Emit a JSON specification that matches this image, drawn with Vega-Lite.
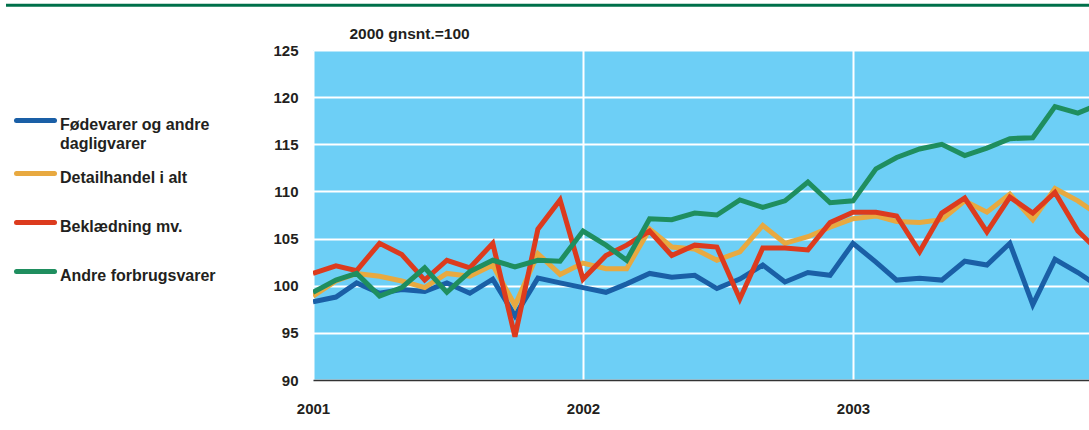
{
  "$schema": "https://vega.github.io/schema/vega-lite/v6.json",
  "autosize": {"type": "none"},
  "padding": {"left": 313, "top": 50, "right": 0, "bottom": 50},
  "width": 776,
  "height": 330,
  "background": "white",
  "config": {
    "font": "Liberation Sans",
    "view": {"fill": "#6dcff6", "stroke": "#a3def7", "strokeWidth": 1},
    "axis": {
      "labelFont": "Liberation Sans",
      "labelFontWeight": "bold",
      "labelColor": "#231f20",
      "titleColor": "#231f20",
      "titleFont": "Liberation Sans",
      "ticks": false,
      "gridColor": "#ffffff",
      "gridWidth": 2,
      "gridOpacity": 1
    }
  },
  "datasets": {
    "indeks": [
      {"dato": "2001-01-01", "Fodevarer": 98.3, "Detailhandel": 98.9, "Beklaedning": 101.3, "Andre": 99.3},
      {"dato": "2001-02-01", "Fodevarer": 98.8, "Detailhandel": 100.5, "Beklaedning": 102.1, "Andre": 100.6},
      {"dato": "2001-03-01", "Fodevarer": 100.3, "Detailhandel": 101.3, "Beklaedning": 101.6, "Andre": 101.3},
      {"dato": "2001-04-01", "Fodevarer": 99.2, "Detailhandel": 101.0, "Beklaedning": 104.5, "Andre": 98.9},
      {"dato": "2001-05-01", "Fodevarer": 99.6, "Detailhandel": 100.5, "Beklaedning": 103.3, "Andre": 99.8},
      {"dato": "2001-06-01", "Fodevarer": 99.4, "Detailhandel": 99.8, "Beklaedning": 100.6, "Andre": 101.9},
      {"dato": "2001-07-01", "Fodevarer": 100.3, "Detailhandel": 101.3, "Beklaedning": 102.7, "Andre": 99.3},
      {"dato": "2001-08-01", "Fodevarer": 99.2, "Detailhandel": 101.0, "Beklaedning": 101.9, "Andre": 101.5},
      {"dato": "2001-09-01", "Fodevarer": 100.7, "Detailhandel": 102.2, "Beklaedning": 104.5, "Andre": 102.7},
      {"dato": "2001-10-01", "Fodevarer": 96.8, "Detailhandel": 97.9, "Beklaedning": 94.6, "Andre": 102.0},
      {"dato": "2001-11-01", "Fodevarer": 100.8, "Detailhandel": 103.4, "Beklaedning": 106.0, "Andre": 102.7},
      {"dato": "2001-12-01", "Fodevarer": 100.3, "Detailhandel": 101.2, "Beklaedning": 109.1, "Andre": 102.6},
      {"dato": "2002-01-01", "Fodevarer": 99.8, "Detailhandel": 102.4, "Beklaedning": 100.7, "Andre": 105.8},
      {"dato": "2002-02-01", "Fodevarer": 99.3, "Detailhandel": 101.8, "Beklaedning": 103.2, "Andre": 104.3},
      {"dato": "2002-03-01", "Fodevarer": 100.2, "Detailhandel": 101.8, "Beklaedning": 104.3, "Andre": 102.7},
      {"dato": "2002-04-01", "Fodevarer": 101.3, "Detailhandel": 106.0, "Beklaedning": 105.8, "Andre": 107.1},
      {"dato": "2002-05-01", "Fodevarer": 100.9, "Detailhandel": 104.1, "Beklaedning": 103.2, "Andre": 107.0},
      {"dato": "2002-06-01", "Fodevarer": 101.1, "Detailhandel": 103.9, "Beklaedning": 104.3, "Andre": 107.7},
      {"dato": "2002-07-01", "Fodevarer": 99.7, "Detailhandel": 102.7, "Beklaedning": 104.1, "Andre": 107.5},
      {"dato": "2002-08-01", "Fodevarer": 100.7, "Detailhandel": 103.6, "Beklaedning": 98.6, "Andre": 109.1},
      {"dato": "2002-09-01", "Fodevarer": 102.2, "Detailhandel": 106.4, "Beklaedning": 104.0, "Andre": 108.3},
      {"dato": "2002-10-01", "Fodevarer": 100.4, "Detailhandel": 104.5, "Beklaedning": 104.0, "Andre": 109.0},
      {"dato": "2002-11-01", "Fodevarer": 101.4, "Detailhandel": 105.2, "Beklaedning": 103.8, "Andre": 111.0},
      {"dato": "2002-12-01", "Fodevarer": 101.1, "Detailhandel": 106.2, "Beklaedning": 106.7, "Andre": 108.8},
      {"dato": "2003-01-01", "Fodevarer": 104.5, "Detailhandel": 107.1, "Beklaedning": 107.8, "Andre": 109.0},
      {"dato": "2003-02-01", "Fodevarer": 102.5, "Detailhandel": 107.4, "Beklaedning": 107.8, "Andre": 112.4},
      {"dato": "2003-03-01", "Fodevarer": 100.6, "Detailhandel": 106.8, "Beklaedning": 107.4, "Andre": 113.6},
      {"dato": "2003-04-01", "Fodevarer": 100.8, "Detailhandel": 106.7, "Beklaedning": 103.6, "Andre": 114.5},
      {"dato": "2003-05-01", "Fodevarer": 100.6, "Detailhandel": 107.0, "Beklaedning": 107.7, "Andre": 115.0},
      {"dato": "2003-06-01", "Fodevarer": 102.6, "Detailhandel": 109.0, "Beklaedning": 109.3, "Andre": 113.8},
      {"dato": "2003-07-01", "Fodevarer": 102.2, "Detailhandel": 107.8, "Beklaedning": 105.7, "Andre": 114.6},
      {"dato": "2003-08-01", "Fodevarer": 104.5, "Detailhandel": 109.7, "Beklaedning": 109.4, "Andre": 115.6},
      {"dato": "2003-09-01", "Fodevarer": 98.0, "Detailhandel": 107.0, "Beklaedning": 107.7, "Andre": 115.7},
      {"dato": "2003-10-01", "Fodevarer": 102.8, "Detailhandel": 110.3, "Beklaedning": 109.9, "Andre": 119.0},
      {"dato": "2003-11-01", "Fodevarer": 101.4, "Detailhandel": 109.0, "Beklaedning": 105.8, "Andre": 118.3},
      {"dato": "2003-12-01", "Fodevarer": 99.8, "Detailhandel": 107.4, "Beklaedning": 103.5, "Andre": 119.3}
    ]
  },
  "layer": [
    {
      "data": {"name": "indeks"},
      "transform": [
        {"fold": ["Fodevarer", "Detailhandel", "Beklaedning", "Andre"], "as": ["serie", "indeks"]}
      ],
      "mark": {"type": "line", "strokeWidth": 5, "clip": true, "strokeJoin": "miter"},
      "encoding": {
        "x": {
          "field": "dato",
          "type": "temporal",
          "scale": {
            "type": "utc",
            "domain": [
              {"year": 2001, "month": 1, "date": 1, "utc": true},
              {"year": 2003, "month": 11, "date": 16, "utc": true}
            ]
          },
          "axis": {
            "title": null,
            "values": [
              {"year": 2001, "month": 1, "date": 1, "utc": true},
              {"year": 2002, "month": 1, "date": 1, "utc": true},
              {"year": 2003, "month": 1, "date": 1, "utc": true}
            ],
            "format": "%Y",
            "labelFontSize": 15,
            "labelBaseline": "top",
            "labelPadding": 21,
            "labelFlush": false,
            "domain": true,
            "domainColor": "#333333",
            "domainWidth": 1.5
          }
        },
        "y": {
          "field": "indeks",
          "type": "quantitative",
          "scale": {"domain": [90, 125], "nice": false, "zero": false},
          "axis": {
            "values": [90, 95, 100, 105, 110, 115, 120, 125],
            "domain": false,
            "labelFontSize": 15,
            "labelPadding": 15,
            "title": "2000 gnsnt.=100",
            "titleAngle": 0,
            "titleAlign": "left",
            "titleBaseline": "alphabetic",
            "titleX": 36,
            "titleY": -12,
            "titleFontSize": 15.5,
            "titleFontWeight": "bold"
          }
        },
        "color": {
          "field": "serie",
          "type": "nominal",
          "scale": {
            "domain": ["Fodevarer", "Detailhandel", "Beklaedning", "Andre"],
            "range": ["#1a5fa6", "#e8a940", "#dc3b1e", "#1f8e5f"]
          },
          "legend": {
            "orient": "none",
            "legendX": -299,
            "legendY": 49,
            "title": null,
            "padding": 0,
            "symbolType": "stroke",
            "symbolSize": 1444,
            "symbolStrokeWidth": 5,
            "labelFont": "Liberation Sans",
            "labelFontSize": 16,
            "labelFontWeight": "bold",
            "labelColor": "#231f20",
            "labelLimit": 400,
            "labelOffset": 3,
            "rowPadding": 0,
            "gridAlign": "each",
            "labelExpr": "datum.label == 'Fodevarer' ? ['Fødevarer og andre', 'dagligvarer'] : datum.label == 'Detailhandel' ? ['Detailhandel i alt', ''] : datum.label == 'Beklaedning' ? ['Beklædning mv.', ''] : ['Andre forbrugsvarer', '']",
            "encode": {
              "symbols": {"update": {"strokeCap": {"value": "round"}}},
              "labels": {"update": {"lineHeight": {"signal": "datum.value == 'Fodevarer' ? 19 : 15"}, "dy": {"value": 4}}}
            }
          }
        }
      }
    },
    {
      "data": {"values": [{}]},
      "mark": {"type": "rule", "color": "#00704a", "strokeWidth": 3, "clip": false},
      "encoding": {
        "x": {"datum": {"year": 1999, "month": 11, "date": 13, "utc": true}, "type": "temporal"},
        "x2": {"datum": {"year": 2003, "month": 11, "date": 16, "utc": true}},
        "y": {"datum": 129.74, "type": "quantitative"}
      }
    }
  ]
}
